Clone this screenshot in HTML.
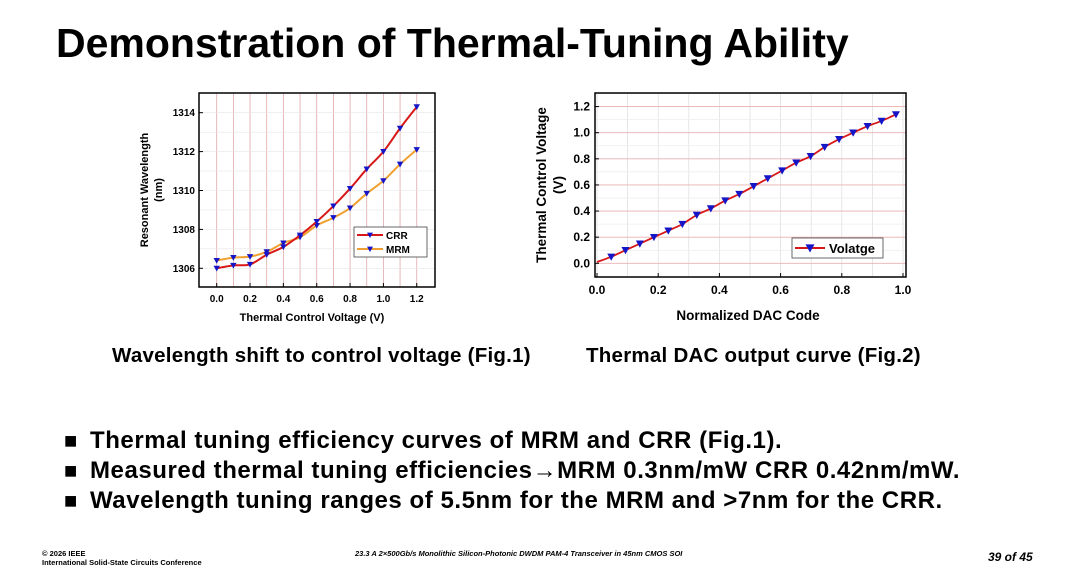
<!DOCTYPE html>
<html><head><meta charset="utf-8"><style>
body{margin:0;width:1080px;height:568px;background:#fff;position:relative;overflow:hidden;font-family:"Liberation Sans",Arial,sans-serif;}
.abs{position:absolute;white-space:nowrap;}
.bl{position:relative;padding-left:26px;}
.bl span.sq{position:absolute;left:0;top:0;font-size:22px;letter-spacing:0;}
</style></head><body>
<div class="abs" style="left:56px;top:20px;font-size:41px;font-weight:bold;">Demonstration of Thermal-Tuning Ability</div>
<svg class="abs" style="left:0;top:0" width="1080" height="568">
<g id="c1"></g>
<g id="c2"></g>
</svg>
<div class="abs" style="left:112px;top:344px;font-size:20.5px;font-weight:bold;letter-spacing:0.25px;">Wavelength shift to control voltage (Fig.1)</div>
<div class="abs" style="left:586px;top:344px;font-size:20.5px;font-weight:bold;letter-spacing:0.25px;">Thermal DAC output curve (Fig.2)</div>
<div class="abs" style="left:64px;top:426px;font-size:24px;font-weight:bold;line-height:30px;letter-spacing:0.55px;">
<div class="bl"><span class="sq">■</span>Thermal tuning efficiency curves of MRM and CRR (Fig.1).</div>
<div class="bl"><span class="sq">■</span>Measured thermal tuning efficiencies→MRM 0.3nm/mW CRR 0.42nm/mW.</div>
<div class="bl"><span class="sq">■</span>Wavelength tuning ranges of 5.5nm for the MRM and &gt;7nm for the CRR.</div>
</div>
<div class="abs" style="left:42px;top:549px;font-size:7.5px;font-weight:bold;line-height:9px;">© 2026 IEEE<br>International Solid-State Circuits Conference</div>
<div class="abs" style="left:355px;top:549px;font-size:7.5px;font-weight:bold;font-style:italic;">23.3 A 2×500Gb/s Monolithic Silicon-Photonic DWDM PAM-4 Transceiver in 45nm CMOS SOI</div>
<div class="abs" style="left:988px;top:550px;font-size:12px;font-weight:bold;font-style:italic;">39 of 45</div>
<script>
const v1 = [0,0.1,0.2,0.3,0.4,0.5,0.6,0.7,0.8,0.9,1.0,1.1,1.2];
const crr = [1306.0,1306.15,1306.2,1306.7,1307.1,1307.7,1308.4,1309.2,1310.1,1311.1,1312.0,1313.2,1314.3];
const mrm = [1306.4,1306.55,1306.6,1306.85,1307.3,1307.6,1308.2,1308.6,1309.1,1309.85,1310.5,1311.35,1312.1];
const xt1 = ["0.0","0.2","0.4","0.6","0.8","1.0","1.2"];
const yt1 = [1306,1308,1310,1312,1314];
const dac = [0,0.0465,0.093,0.14,0.186,0.233,0.279,0.326,0.372,0.419,0.465,0.512,0.558,0.605,0.651,0.698,0.744,0.791,0.837,0.884,0.93,0.977];
const volt = [0.01,0.05,0.1,0.15,0.2,0.25,0.3,0.37,0.42,0.48,0.53,0.59,0.65,0.71,0.77,0.82,0.89,0.95,1.0,1.05,1.09,1.14];
const xt2 = ["0.0","0.2","0.4","0.6","0.8","1.0"];
const yt2 = ["0.0","0.2","0.4","0.6","0.8","1.0","1.2"];
const NS="http://www.w3.org/2000/svg";
function mk(p,t,a){const e=document.createElementNS(NS,t);for(const k in a)e.setAttribute(k,a[k]);p.appendChild(e);return e;}
function txt(p,x,y,s,fs,anchor,rot){const e=mk(p,'text',{x:x,y:y,'font-size':fs,'font-weight':'bold','text-anchor':anchor||'middle','font-family':'Liberation Sans, Arial, sans-serif'});if(rot)e.setAttribute('transform','rotate(-90 '+x+' '+y+')');e.textContent=s;return e;}
function tri(p,x,y,r){return mk(p,'path',{d:`M${x-r},${y-r*0.8}L${x+r},${y-r*0.8}L${x},${y+r}Z`,fill:'#1515c8'});}
function smooth(pts){let d=`M${pts[0][0]},${pts[0][1]}`;for(let i=0;i<pts.length-1;i++){const p0=pts[Math.max(0,i-1)],p1=pts[i],p2=pts[i+1],p3=pts[Math.min(pts.length-1,i+2)];const c1=[p1[0]+(p2[0]-p0[0])/6,p1[1]+(p2[1]-p0[1])/6],c2=[p2[0]-(p3[0]-p1[0])/6,p2[1]-(p3[1]-p1[1])/6];d+=`C${c1[0]},${c1[1]} ${c2[0]},${c2[1]} ${p2[0]},${p2[1]}`;}return d;}
// chart 1
const g1=document.getElementById('c1');
const X1=v=>216.7+v*166.7, Y1=w=>268.3-(w-1306)*19.45;
for(let i=0;i<=12;i++){const l=mk(g1,'line',{x1:X1(i*0.1),x2:X1(i*0.1),y1:93,y2:287,stroke:'#e0a8a8','stroke-width':0.8});}
for(let w=1306;w<=1314;w++){const l=mk(g1,'line',{x1:199,x2:435,y1:Y1(w),y2:Y1(w),stroke:'#e6e6e6','stroke-width':0.6});}
mk(g1,'rect',{x:199,y:93,width:236,height:194,fill:'none',stroke:'#000','stroke-width':1.5});
xt1.forEach(s=>{const v=parseFloat(s);mk(g1,'line',{x1:X1(v),x2:X1(v),y1:287,y2:283,stroke:'#000'});const t=txt(g1,X1(v),302,s,10);});
yt1.forEach(w=>{mk(g1,'line',{x1:199,x2:203,y1:Y1(w),y2:Y1(w),stroke:'#000'});const t=txt(g1,195,Y1(w)+3.5,String(w),10,'end');});
let t=txt(g1,312,321,'Thermal Control Voltage (V)',11);
t=txt(g1,148,190,'Resonant Wavelength',11,'middle',true);
txt(g1,162,190,'(nm)',11,'middle',true);
[[mrm,'#f0a030','series-mrm'],[crr,'#d81818','series-crr']].forEach(([s,c,n])=>{const pts=v1.map((v,i)=>[X1(v),Y1(s[i])]);const p=mk(g1,'path',{d:smooth(pts),fill:'none',stroke:c,'stroke-width':2});pts.forEach(q=>{const m=tri(g1,q[0],q[1],3.2);});});
const lg1=mk(g1,'g',{});
mk(lg1,'rect',{x:354,y:227,width:73,height:30,fill:'#fff',stroke:'#444','stroke-width':0.8});
mk(lg1,'line',{x1:357,x2:383,y1:235,y2:235,stroke:'#d81818','stroke-width':2});tri(lg1,370,235,3);txt(lg1,386,239,'CRR',10,'start');
mk(lg1,'line',{x1:357,x2:383,y1:249,y2:249,stroke:'#f0a030','stroke-width':2});tri(lg1,370,249,3);txt(lg1,386,253,'MRM',10,'start');
// chart 2
const g2=document.getElementById('c2');
const X2=v=>597+v*306, Y2=v=>263.3-v*130.6;
for(let i=0;i<=10;i++){const l=mk(g2,'line',{x1:X2(i*0.1),x2:X2(i*0.1),y1:93,y2:277,stroke:'#dcdcdc','stroke-width':0.7});}
for(let i=0;i<=13;i++){const yy=Y2(i*0.1);if(yy<93)continue;const l=mk(g2,'line',{x1:595,x2:906,y1:yy,y2:yy,stroke:i%2?'#eeeeee':'#e8b0b0','stroke-width':0.8});}
mk(g2,'rect',{x:595,y:93,width:311,height:184,fill:'none',stroke:'#000','stroke-width':1.5});
xt2.forEach(s=>{const v=parseFloat(s);mk(g2,'line',{x1:X2(v),x2:X2(v),y1:277,y2:273,stroke:'#000'});const t=txt(g2,X2(v),294,s,12);});
yt2.forEach(s=>{const v=parseFloat(s);mk(g2,'line',{x1:595,x2:599,y1:Y2(v),y2:Y2(v),stroke:'#000'});const t=txt(g2,590,Y2(v)+4,s,12,'end');});
t=txt(g2,748,320,'Normalized DAC Code',13.5);
t=txt(g2,546,185,'Thermal Control Voltage',13.5,'middle',true);
txt(g2,563,185,'(V)',13.5,'middle',true);
const pts2=dac.map((v,i)=>[X2(v),Y2(volt[i])]);
const p2=mk(g2,'path',{d:smooth(pts2),fill:'none',stroke:'#d81818','stroke-width':1.8});
pts2.slice(1).forEach(q=>{const m=tri(g2,q[0],q[1],4);});
const lg2=mk(g2,'g',{});
mk(lg2,'rect',{x:792,y:238,width:91,height:20,fill:'#fff',stroke:'#444','stroke-width':0.8});
mk(lg2,'line',{x1:795,x2:825,y1:248,y2:248,stroke:'#d81818','stroke-width':2});tri(lg2,810,248,4.5);txt(lg2,829,253,'Volatge',13,'start');
</script>
</body></html>
